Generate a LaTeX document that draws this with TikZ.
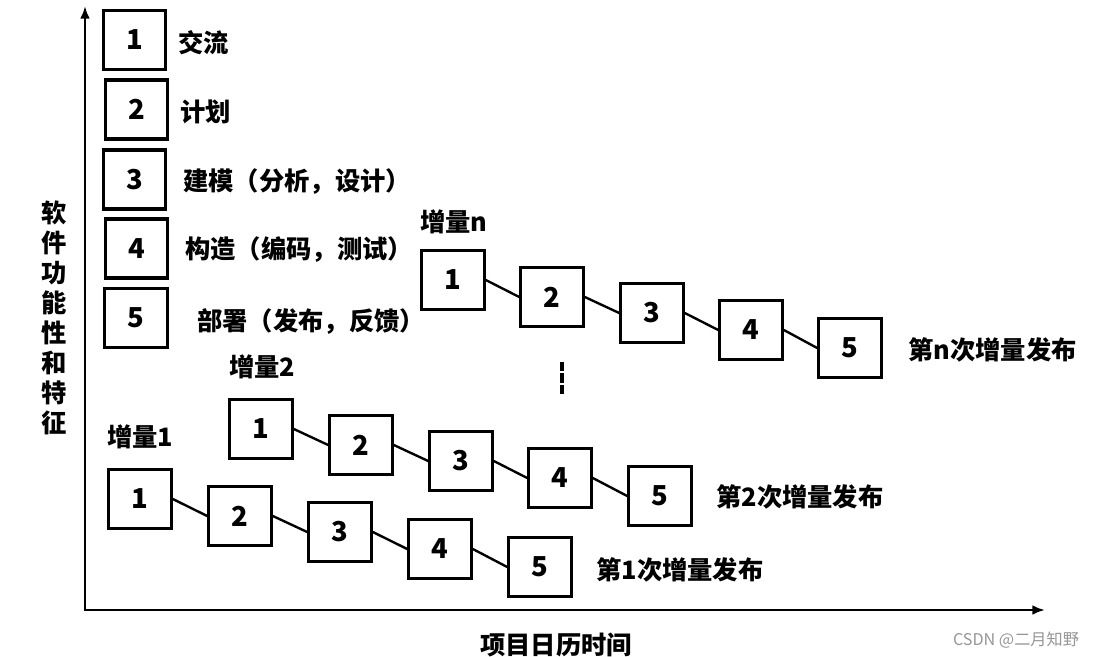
\documentclass[tikz,border=0pt]{standalone}
\usepackage{fontspec}
\setmainfont{Noto Sans CJK SC}
\usepackage{tikz}
\usetikzlibrary{arrows.meta}
\tikzset{>=latex}
\tikzset{stage/.style = {shape=rectangle,draw,line width=2.3pt,minimum width=1.56cm,minimum height=1.47cm,inner sep=0pt,font=\fontsize{19.5pt}{19.5pt}\selectfont\bfseries}}
\tikzset{link/.style = {line width=1.7pt}}
\tikzset{axis/.style = {{Latex[length=9pt,width=7pt]}-{Latex[length=9pt,width=7pt]},line width=2.1pt}}
\tikzset{note/.style = {anchor=west,inner sep=0pt,font=\fontsize{18pt}{18pt}\selectfont\bfseries}}
\tikzset{axistext/.style = {align=center,inner sep=0pt,font=\fontsize{18pt}{21.4pt}\selectfont\bfseries}}
\definecolor{markgray}{RGB}{150,150,150}

\begin{document}
\begin{tikzpicture}[x=0.025cm,y=-0.025cm]
            \useasboundingbox (0,0) rectangle (1100,657);

            % Axes
            \coordinate (o) at (85,610);
            \coordinate (ytip) at (85,6);
            \coordinate (xtip) at (1045,610);
            \draw[axis] (ytip) -- (o) -- (xtip);
            \node[axistext] (ylab) at (54,318) {软\\件\\功\\能\\性\\和\\特\\征};
            \node[axistext] (xlab) at (556,645) {项目日历时间};

            % Legend
            \node[stage] (s1) at (134.5,40) {1};
            \node[stage] (s2) at (136.5,109.5) {2};
            \node[stage] (s3) at (134.5,179.5) {3};
            \node[stage] (s4) at (136.5,248.5) {4};
            \node[stage] (s5) at (136,318) {5};
            \node[note] (t1) at (178,43) {交流};
            \node[note] (t2) at (180,112) {计划};
            \node[note] (t3) at (183,182) {建模（分析，设计）};
            \node[note] (t4) at (185,250) {构造（编码，测试）};
            \node[note] (t5) at (197,322) {部署（发布，反馈）};

            % Increment 1
            \node[note] (inc1) at (107,437) {增量1};
            \node[stage] (a1) at (140,499) {1};
            \node[stage] (a2) at (240,516) {2};
            \node[stage] (a3) at (340,532) {3};
            \node[stage] (a4) at (440,549) {4};
            \node[stage] (a5) at (540,567) {5};
            \node[note] (r1) at (596,570) {第1次增量发布};
            \draw[link] (a1.east) -- (a2.west);
            \draw[link] (a2.east) -- (a3.west);
            \draw[link] (a3.east) -- (a4.west);
            \draw[link] (a4.east) -- (a5.west);

            % Increment 2
            \node[note] (inc2) at (229,367) {增量2};
            \node[stage] (b1) at (261,429) {1};
            \node[stage] (b2) at (361,445) {2};
            \node[stage] (b3) at (461,461) {3};
            \node[stage] (b4) at (560,478) {4};
            \node[stage] (b5) at (660,496) {5};
            \node[note] (r2) at (716,497) {第2次增量发布};
            \draw[link] (b1.east) -- (b2.west);
            \draw[link] (b2.east) -- (b3.west);
            \draw[link] (b3.east) -- (b4.west);
            \draw[link] (b4.east) -- (b5.west);

            % Increment n
            \node[note] (incn) at (420,222) {增量n};
            \node[stage] (n1) at (453,280) {1};
            \node[stage] (n2) at (552,297) {2};
            \node[stage] (n3) at (652,313) {3};
            \node[stage] (n4) at (751,330) {4};
            \node[stage] (n5) at (850,348) {5};
            \node[note] (rn) at (908,350) {第n次增量发布};
            \draw[link] (n1.east) -- (n2.west);
            \draw[link] (n2.east) -- (n3.west);
            \draw[link] (n3.east) -- (n4.west);
            \draw[link] (n4.east) -- (n5.west);

            % gap between 2 and n
            \coordinate (dtop) at (562,362);
            \coordinate (dbot) at (562,394);
            \draw[line width=2.8pt,dash pattern=on 6.6pt off 1.5pt] (dtop) -- (dbot);

            % watermark
            \node[font=\fontsize{11.5pt}{11.5pt}\selectfont,text=markgray,inner sep=0pt] (mark) at (1016,640) {CSDN @二月知野};
        \end{tikzpicture}
\end{document}
